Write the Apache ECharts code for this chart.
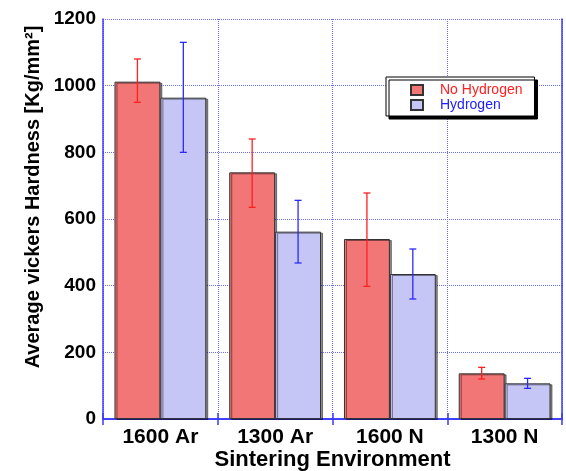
<!DOCTYPE html>
<html><head><meta charset="utf-8">
<script src="https://cdn.jsdelivr.net/npm/echarts@6/dist/echarts.min.js"></script>
<style>html,body{margin:0;padding:0;background:#fff}#c{width:566px;height:471px}</style>
</head><body><div id="c"></div>
<script>
const categories = ['1600 Ar', '1300 Ar', '1600 N', '1300 N'];
const noHydrogen = [1012, 740, 540, 137];
const noHydrogenLow = [950, 635, 398, 120];
const noHydrogenHigh = [1080, 840, 678, 155];
const hydrogen = [964, 562, 435, 107];
const hydrogenLow = [800, 468, 360, 92];
const hydrogenHigh = [1130, 656, 510, 122];
const yTicks = [0, 200, 400, 600, 800, 1000, 1200];

const FONT = 'Liberation Sans, Arial, sans-serif';
const AXIS = '#3a3aff';
const GRID = '#7070ff';

function errSeries(name, low, high, color, side) {
  return {
    type: 'custom', name: name + ' err', silent: true, z: 5,
    data: categories.map((c, i) => [i, low[i], high[i]]),
    renderItem: function (params, api) {
      const i = api.value(0);
      const cw = api.size([1, 0])[0];
      const bw = cw * 0.8 / 2;
      const lo = api.coord([i, api.value(1)]);
      const hi = api.coord([i, api.value(2)]);
      const x = lo[0] + side * bw / 2;
      const cap = 3.5;
      const st = { stroke: color, lineWidth: 1.3 };
      return { type: 'group', children: [
        { type: 'line', shape: { x1: x, y1: lo[1], x2: x, y2: hi[1] }, style: st },
        { type: 'line', shape: { x1: x - cap, y1: lo[1], x2: x + cap, y2: lo[1] }, style: st },
        { type: 'line', shape: { x1: x - cap, y1: hi[1], x2: x + cap, y2: hi[1] }, style: st }
      ]};
    }
  };
}

const chart = echarts.init(document.getElementById('c'), null, { renderer: 'canvas' });
chart.setOption({
  animation: false,
  textStyle: { fontFamily: FONT },
  grid: { left: 103, right: 4, top: 19, bottom: 52, containLabel: false, outerBoundsMode: 'none' },
  legend: {
    left: 386, top: 77, orient: 'vertical',
    padding: [6, 12, 4, 24], itemGap: 1,
    itemWidth: 12, itemHeight: 10, icon: 'rect',
    backgroundColor: '#fff', borderColor: '#000', borderWidth: 1,
    shadowColor: '#000', shadowBlur: 0.5, shadowOffsetX: 3, shadowOffsetY: 3,
    textStyle: { fontFamily: FONT, fontSize: 14, lineHeight: 12, padding: [0, 0, 0, 12] },
    data: [
      { name: 'No Hydrogen', textStyle: { color: '#ff2020' } },
      { name: 'Hydrogen', textStyle: { color: '#2020ff' } }
    ]
  },
  xAxis: [{
    type: 'category', data: categories,
    name: 'Sintering Environment', nameLocation: 'middle', nameGap: 30, nameMoveOverlap: false,
    nameTextStyle: { fontFamily: FONT, fontSize: 22, fontWeight: 'bold', color: '#000' },
    axisLine: { lineStyle: { color: AXIS, width: 1.5 } },
    axisTick: { show: true, inside: true, length: 6, lineStyle: { color: AXIS, width: 1.5 } },
    axisLabel: { fontFamily: FONT, fontSize: 21, fontWeight: 'bold', color: '#000', margin: 8 },
    splitLine: { show: true, lineStyle: { color: GRID, type: [1, 1], width: 1 } }
  }, {
    type: 'category', data: categories, position: 'top',
    axisLine: { show: true, lineStyle: { color: AXIS, width: 1.5 } },
    axisTick: { show: true, inside: true, length: 6, lineStyle: { color: AXIS, width: 1.5 } },
    axisLabel: { show: false }, splitLine: { show: false }
  }],
  yAxis: [{
    type: 'value', min: 0, max: 1200, interval: 200,
    name: 'Average vickers Hardness [Kg/mm²]', nameLocation: 'middle', nameGap: 60, nameMoveOverlap: false,
    nameTextStyle: { fontFamily: FONT, fontSize: 20, fontWeight: 'bold', color: '#000', padding: [0, 0, 0, 44] },
    axisLine: { show: true, lineStyle: { color: AXIS, width: 1.5 } },
    axisTick: { show: false },
    axisLabel: { fontFamily: FONT, fontSize: 19, fontWeight: 'bold', color: '#000', margin: 7,
      formatter: v => yTicks.includes(v) ? String(v) : '' },
    splitLine: { show: true, lineStyle: { color: GRID, type: [1, 1], width: 1 } }
  }, {
    type: 'value', min: 0, max: 1200, interval: 200, position: 'right',
    axisLine: { show: true, lineStyle: { color: AXIS, width: 1.5 } },
    axisTick: { show: false }, axisLabel: { show: false }, splitLine: { show: false }
  }],
  series: [
    { name: 'No Hydrogen', type: 'bar', data: noHydrogen, barGap: '0%', barCategoryGap: '20%',
      itemStyle: { color: '#f27676', borderColor: '#333', borderWidth: 1,
        shadowColor: 'rgba(0,0,0,0.45)', shadowOffsetX: 2, shadowOffsetY: 1 } },
    { name: 'Hydrogen', type: 'bar', data: hydrogen, barGap: '0%', barCategoryGap: '20%',
      itemStyle: { color: '#c6c6f6', borderColor: '#333', borderWidth: 1,
        shadowColor: 'rgba(0,0,0,0.45)', shadowOffsetX: 2, shadowOffsetY: 1 } },
    errSeries('No Hydrogen', noHydrogenLow, noHydrogenHigh, '#ff2020', -1),
    errSeries('Hydrogen', hydrogenLow, hydrogenHigh, '#2a2aff', 1)
  ]
});
</script></body></html>
